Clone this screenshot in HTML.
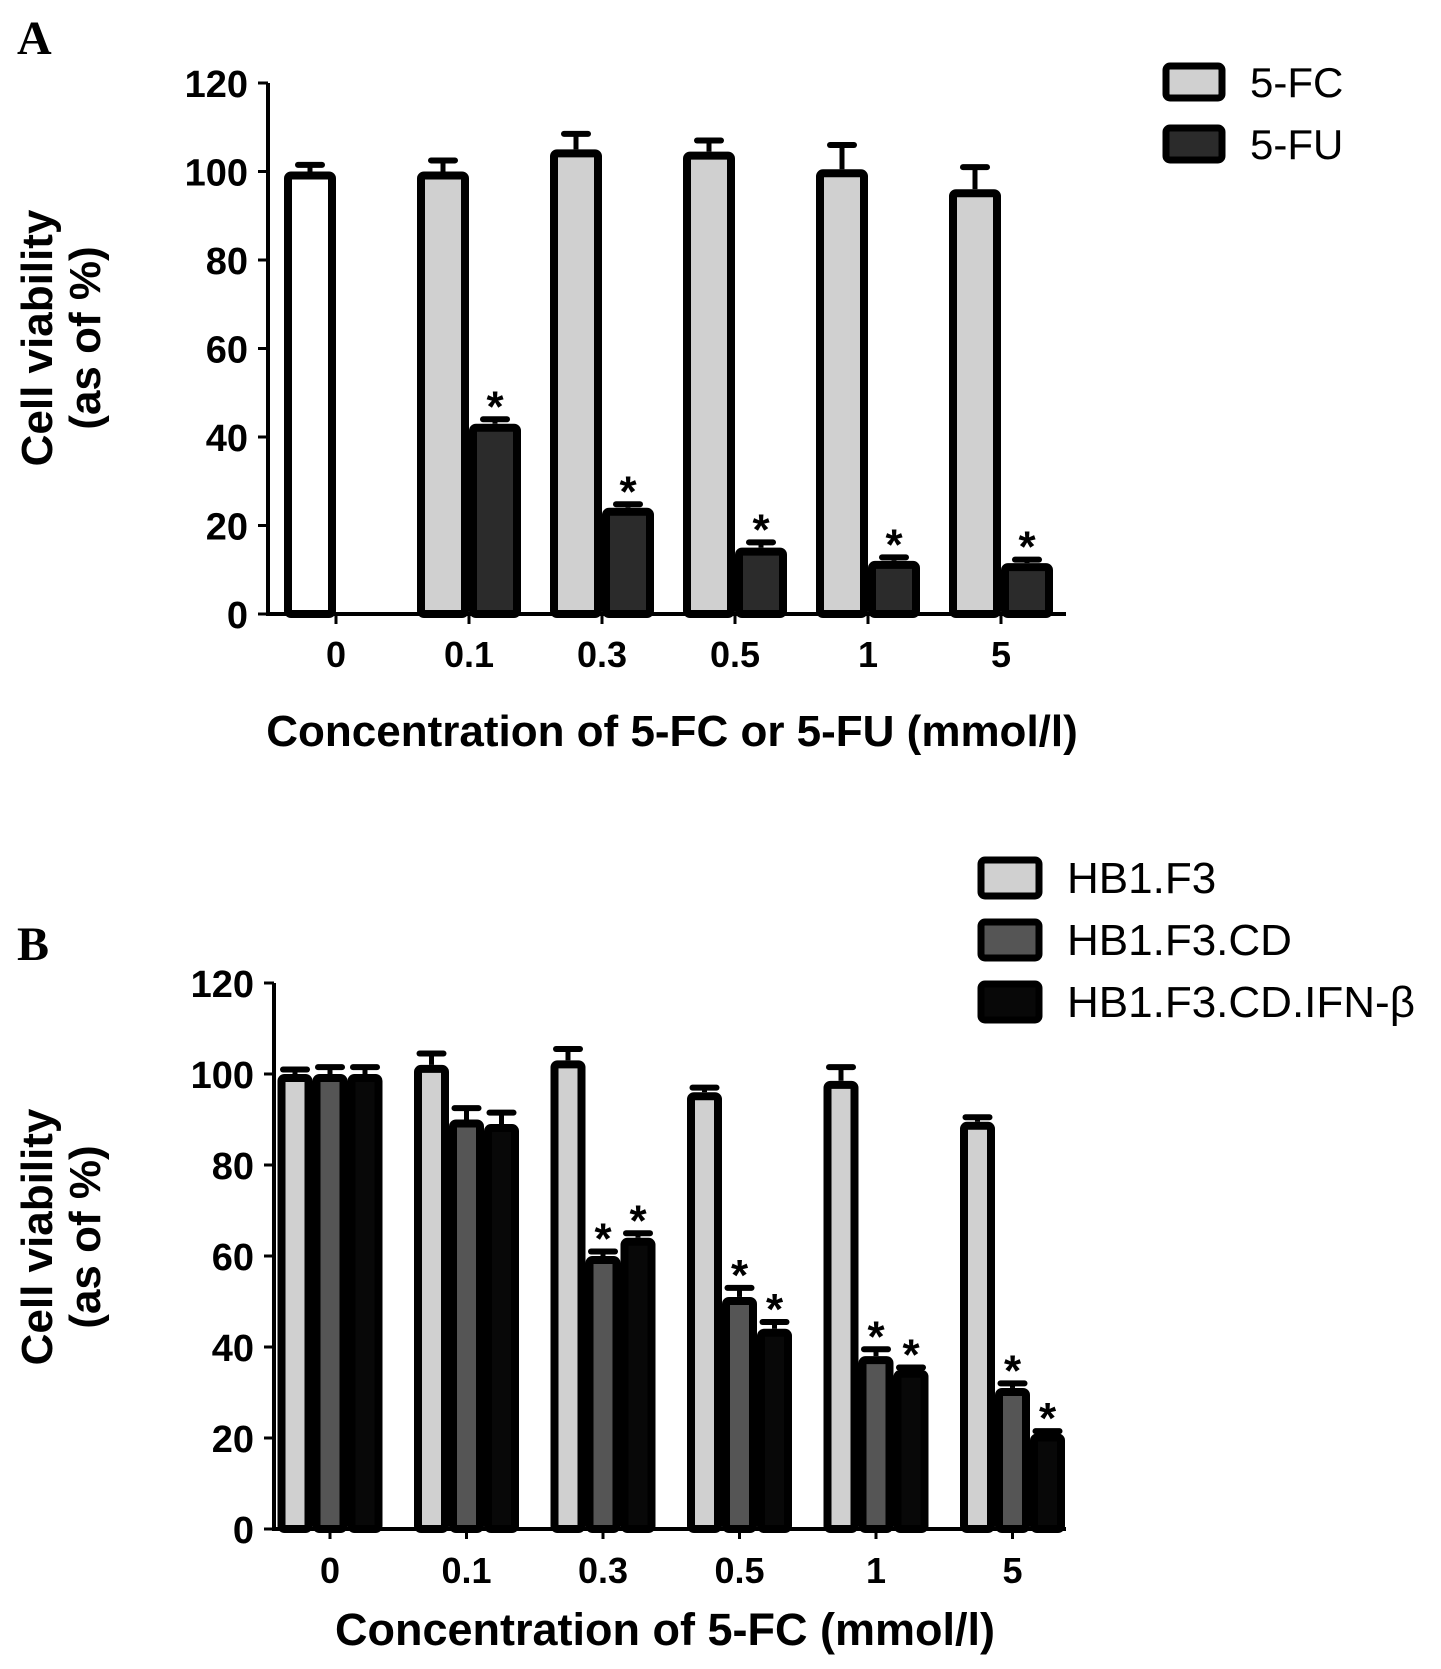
<!DOCTYPE html>
<html><head><meta charset="utf-8"><style>
body{margin:0;background:#fff}
svg{display:block}
text{font-family:"Liberation Sans",Arial,sans-serif;font-weight:bold;fill:#000}
text.serif{font-family:"Liberation Serif",serif}
text.leg{font-weight:normal}
</style></head><body>
<svg id="chart" width="1441" height="1669" viewBox="0 0 1441 1669" xmlns="http://www.w3.org/2000/svg"></svg>
<script>
const catsA = ["0","0.1","0.3","0.5","1","5"];
const fcA = [100,100,105,104.5,100.5,96];
const fcErrA = [1.5,2.5,3.5,2.5,5.5,5];
const fuA = [null,43,24,15,12,11.5];
const fuErrA = [0,1,0.8,1.2,0.8,0.8];
const catsB = ["0","0.1","0.3","0.5","1","5"];
const hbB = [100,102,103,96,98.5,89.5];
const hbErrB = [1,2.5,2.5,1,3,1];
const cdB = [100,90,60,51,38,31];
const cdErrB = [1.5,2.5,1,2,1.5,1];
const ifnB = [100,89,64,44,35,21];
const ifnErrB = [1.5,2.5,1,1.5,0.5,0.5];
const yTicks = [0,20,40,60,80,100,120];

const svg=document.getElementById('chart');
const NS='http://www.w3.org/2000/svg';
function mk(tag,attrs,parent){const e=document.createElementNS(NS,tag);for(const k in attrs)e.setAttribute(k,attrs[k]);(parent||svg).appendChild(e);return e;}
function txt(s,x,y,size,anchor,parent,extra){const t=mk('text',Object.assign({x:x,y:y,'font-size':size,'text-anchor':anchor||'middle'},extra||{}),parent);t.textContent=s;return t;}

function panel(cfg){
  const g=mk('g',{});
  
  
  const y=v=>cfg.y0-(v/120)*(cfg.y0-cfg.y120);
  const cx=i=>cfg.c0+i*cfg.step;
  const ya=mk('line',{x1:cfg.ax,y1:cfg.y120,x2:cfg.ax,y2:cfg.y0+2,stroke:'#000','stroke-width':4},g);
  
  const xa=mk('line',{x1:cfg.ax,y1:cfg.y0,x2:cfg.axEnd,y2:cfg.y0,stroke:'#000','stroke-width':4},g);
  
  yTicks.forEach(v=>{
    mk('line',{x1:cfg.ax-10,y1:y(v),x2:cfg.ax,y2:y(v),stroke:'#000','stroke-width':3},g);
    const t=txt(String(v),cfg.ax-20,y(v)+14,38,'end',g);
    
  });
  cfg.cats.forEach((c,i)=>{
    mk('line',{x1:cx(i),y1:cfg.y0,x2:cx(i),y2:cfg.y0+10,stroke:'#000','stroke-width':3},g);
    const t=txt(c,cx(i),cfg.tickY,36,'middle',g);
    
  });
  const n=cfg.series.length, bw=cfg.bw;
  cfg.series.forEach((s,si)=>{
    s.vals.forEach((v,i)=>{
      if(v==null)return;
      let left=cx(i)-n*bw/2+si*bw;
      let fill=s.fill;
      if(cfg.ctrl && i===0){fill='#fff';}
      const top=y(v), e=s.err[i];
      const eb=mk('line',{x1:left+bw/2,y1:top,x2:left+bw/2,y2:y(v+e),stroke:'#000','stroke-width':5},g);
      
      mk('line',{x1:left+bw/2-12,y1:y(v+e),x2:left+bw/2+12,y2:y(v+e),stroke:'#000','stroke-width':6,'stroke-linecap':'round'},g);
      const r=mk('rect',{x:left+4,y:top+4,width:bw-8,height:Math.max(0,cfg.y0-top-4),fill:fill,stroke:'#000','stroke-width':8,rx:3},g);
      
      
      if(s.star&&s.star[i]){const st=txt('*',left+bw/2,y(v+e)+2,44,'middle',g);}
    });
  });
  const t1=txt('Cell viability',cfg.ytX1,cfg.ytY,44,'middle',g,{transform:`rotate(-90 ${cfg.ytX1} ${cfg.ytY})`});
  
  const t2=txt('(as of %)',cfg.ytX2,cfg.ytY,44,'middle',g,{transform:`rotate(-90 ${cfg.ytX2} ${cfg.ytY})`});
  
  const xt=txt(cfg.xtitle,cfg.xtX,cfg.xtY,cfg.xtSize,'middle',g);
  
  const pl=txt(cfg.label,17,cfg.labelY,48,'start',g,{'class':'serif'});
  
  cfg.legend.forEach((l,li)=>{
    const ly=cfg.legY+li*cfg.legStep;
    const lr=mk('rect',{x:cfg.legX,y:ly,width:cfg.legW,height:cfg.legH,fill:l.fill,stroke:'#000','stroke-width':7,rx:4},g);
    
    const lt=txt(l.text,cfg.legX+cfg.legW+28,ly+cfg.legH/2+15,cfg.legSize,'start',g,{'class':'leg'});
    
  });
}

panel({name:'panel-a',label:'A',labelY:54,ax:268,axEnd:1066,y0:614,y120:83,c0:336,step:133,bw:52,tickY:667,cats:catsA,ctrl:true,
  series:[{key:'5fc',vals:fcA,err:fcErrA,fill:'#d0d0d0'},{key:'5fu',vals:fuA,err:fuErrA,fill:'#2b2b2b',star:[0,1,1,1,1,1]}],
  ytX1:52,ytX2:100,ytY:338,xtitle:'Concentration of 5-FC or 5-FU (mmol/l)',xtX:672,xtY:746,xtSize:44,
  legend:[{fill:'#d0d0d0',text:'5-FC'},{fill:'#2b2b2b',text:'5-FU'}],legX:1166,legY:66,legStep:62,legW:56,legH:32,legSize:42});

panel({name:'panel-b',label:'B',labelY:960,ax:274,axEnd:1066,y0:1529,y120:983,c0:330,step:136.5,bw:35,tickY:1583,cats:catsB,ctrl:false,
  series:[{key:'hb1f3',vals:hbB,err:hbErrB,fill:'#d0d0d0'},{key:'hb1f3cd',vals:cdB,err:cdErrB,fill:'#555',star:[0,0,1,1,1,1]},{key:'hb1f3cdifn',vals:ifnB,err:ifnErrB,fill:'#080808',star:[0,0,1,1,1,1]}],
  ytX1:52,ytX2:100,ytY:1237,xtitle:'Concentration of 5-FC (mmol/l)',xtX:665,xtY:1645,xtSize:45,
  legend:[{fill:'#d0d0d0',text:'HB1.F3'},{fill:'#555',text:'HB1.F3.CD'},{fill:'#080808',text:'HB1.F3.CD.IFN-β'}],legX:981,legY:860,legStep:62,legW:58,legH:36,legSize:44});
</script>
</body></html>
